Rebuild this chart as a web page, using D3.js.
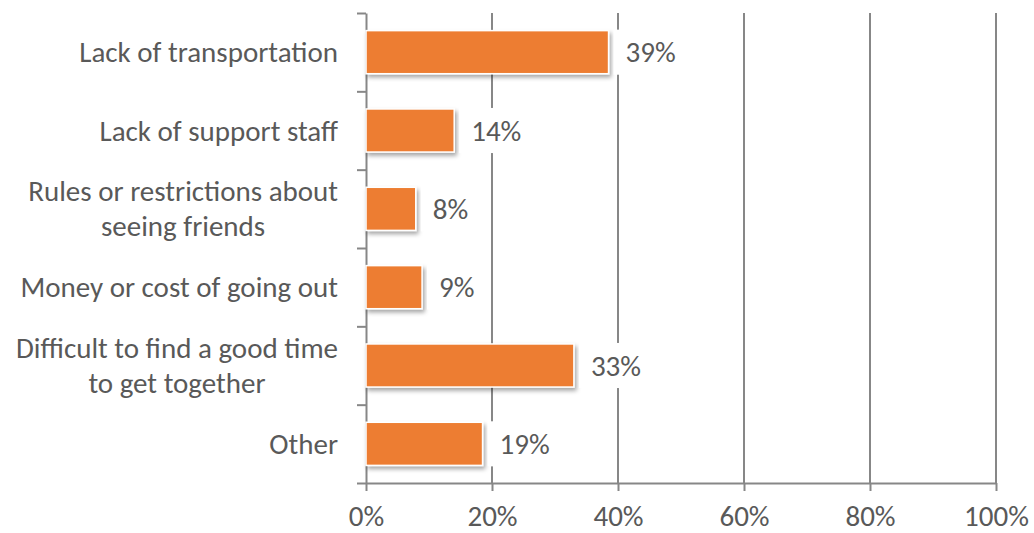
<!DOCTYPE html>
<html>
<head>
<meta charset="utf-8">
<script src="https://cdn.jsdelivr.net/npm/d3@7"></script>
<style>
  body { margin: 0; background: #fff; }
  text { font-family: Carlito, Calibri, Lato, sans-serif; fill: #595959; }
</style>
</head>
<body>
<div id="chart"></div>
<script>
// categories, top to bottom (line breaks as in the original labels)
var categories = [
  ["Lack of transportation"],
  ["Lack of support staff"],
  ["Rules or restrictions about", "seeing friends"],
  ["Money or cost of going out"],
  ["Difficult to find a good time", "to get together"],
  ["Other"]
];
// share of respondents (bar lengths)
var values = [0.385, 0.14, 0.079, 0.089, 0.33, 0.185];
// data labels as printed
var valueLabels = ["39%", "14%", "8%", "9%", "33%", "19%"];
var xTicks = [0, 0.2, 0.4, 0.6, 0.8, 1];

var width = 1034, height = 533;
var margin = {top: 13, right: 38, bottom: 50, left: 366};
var fontSize = 29;
var grey = "#878787";

var svg = d3.select("#chart").append("svg")
  .attr("width", width).attr("height", height);

// drop shadow for the bars
var defs = svg.append("defs");
var f = defs.append("filter").attr("id", "shadow")
  .attr("x", "-10%").attr("y", "-20%").attr("width", "130%").attr("height", "160%");
f.append("feDropShadow").attr("dx", 2).attr("dy", 3).attr("stdDeviation", 2)
  .attr("flood-color", "#000").attr("flood-opacity", 0.35);

var keys = categories.map(function(d) { return d.join(" "); });

var x = d3.scaleLinear().domain([0, 1]).range([margin.left, width - margin.right]);
var y = d3.scaleBand().domain(keys)
  .range([margin.top, height - margin.bottom])
  .paddingInner(0.45).paddingOuter(0.225);
// category boundaries for the left ticks
var yb = d3.scaleLinear().domain([0, keys.length]).range([margin.top, height - margin.bottom]);

// gridlines
svg.append("g").selectAll("line")
  .data(xTicks.slice(1))
  .enter().append("line")
  .attr("x1", function(d) { return x(d); })
  .attr("x2", function(d) { return x(d); })
  .attr("y1", margin.top)
  .attr("y2", height - margin.bottom)
  .attr("stroke", grey).attr("stroke-width", 2);

// x axis
var xAxis = svg.append("g")
  .attr("transform", "translate(0," + (height - margin.bottom) + ")")
  .call(d3.axisBottom(x).tickValues(xTicks).tickFormat(d3.format(".0%")).tickSize(8).tickSizeOuter(0));
xAxis.select(".domain").attr("stroke", grey).attr("stroke-width", 2);
xAxis.selectAll(".tick line").attr("stroke", grey).attr("stroke-width", 2);
xAxis.selectAll(".tick text")
  .attr("y", 43).attr("dy", 0)
  .style("font-size", fontSize + "px").style("font-family", null).attr("fill", null);

// y axis (ticks between categories)
var yAxis = svg.append("g")
  .attr("transform", "translate(" + margin.left + ",0)")
  .call(d3.axisLeft(yb).tickValues(d3.range(keys.length + 1)).tickFormat("").tickSize(9).tickSizeOuter(0));
yAxis.select(".domain").attr("stroke", grey).attr("stroke-width", 2);
yAxis.selectAll(".tick line").attr("stroke", grey).attr("stroke-width", 2);

// category labels, multi-line labels centred on each other
var labelRight = margin.left - 28;
var lineH = 35;
var catG = svg.append("g").selectAll("text")
  .data(categories)
  .enter().append("text")
  .style("font-size", fontSize + "px")
  .attr("text-anchor", "middle");
catG.each(function(lines, i) {
  var t = d3.select(this);
  var cy = y(keys[i]) + y.bandwidth() / 2;
  lines.forEach(function(l, j) {
    t.append("tspan")
      .attr("y", cy + (j - (lines.length - 1) / 2) * lineH)
      .attr("dy", "0.35em")
      .text(l);
  });
  var w = d3.max(t.selectAll("tspan").nodes(), function(n) { return n.getComputedTextLength(); });
  t.selectAll("tspan").attr("x", labelRight - w / 2);
});

// bars
svg.append("g").selectAll("rect")
  .data(values)
  .enter().append("rect")
  .attr("x", x(0))
  .attr("y", function(d, i) { return y(keys[i]); })
  .attr("width", function(d) { return x(d) - x(0); })
  .attr("height", y.bandwidth())
  .attr("fill", "#ED7D31")
  .attr("stroke", "#fff").attr("stroke-width", 1.5)
  .attr("filter", "url(#shadow)");

// data labels on white boxes
var lab = svg.append("g").selectAll("g")
  .data(values)
  .enter().append("g")
  .attr("transform", function(d, i) {
    return "translate(" + (x(d) + 17) + "," + (y(keys[i]) + y.bandwidth() / 2) + ")";
  });
lab.append("rect").attr("fill", "#fff");
lab.append("text")
  .style("font-size", fontSize + "px")
  .attr("dy", "0.35em")
  .text(function(d, i) { return valueLabels[i]; });
lab.each(function() {
  var g = d3.select(this);
  var w = g.select("text").node().getComputedTextLength();
  var h = y.bandwidth() + 2;
  g.select("rect").attr("x", -12).attr("y", -h / 2).attr("width", w + 20).attr("height", h);
});
</script>
</body>
</html>
